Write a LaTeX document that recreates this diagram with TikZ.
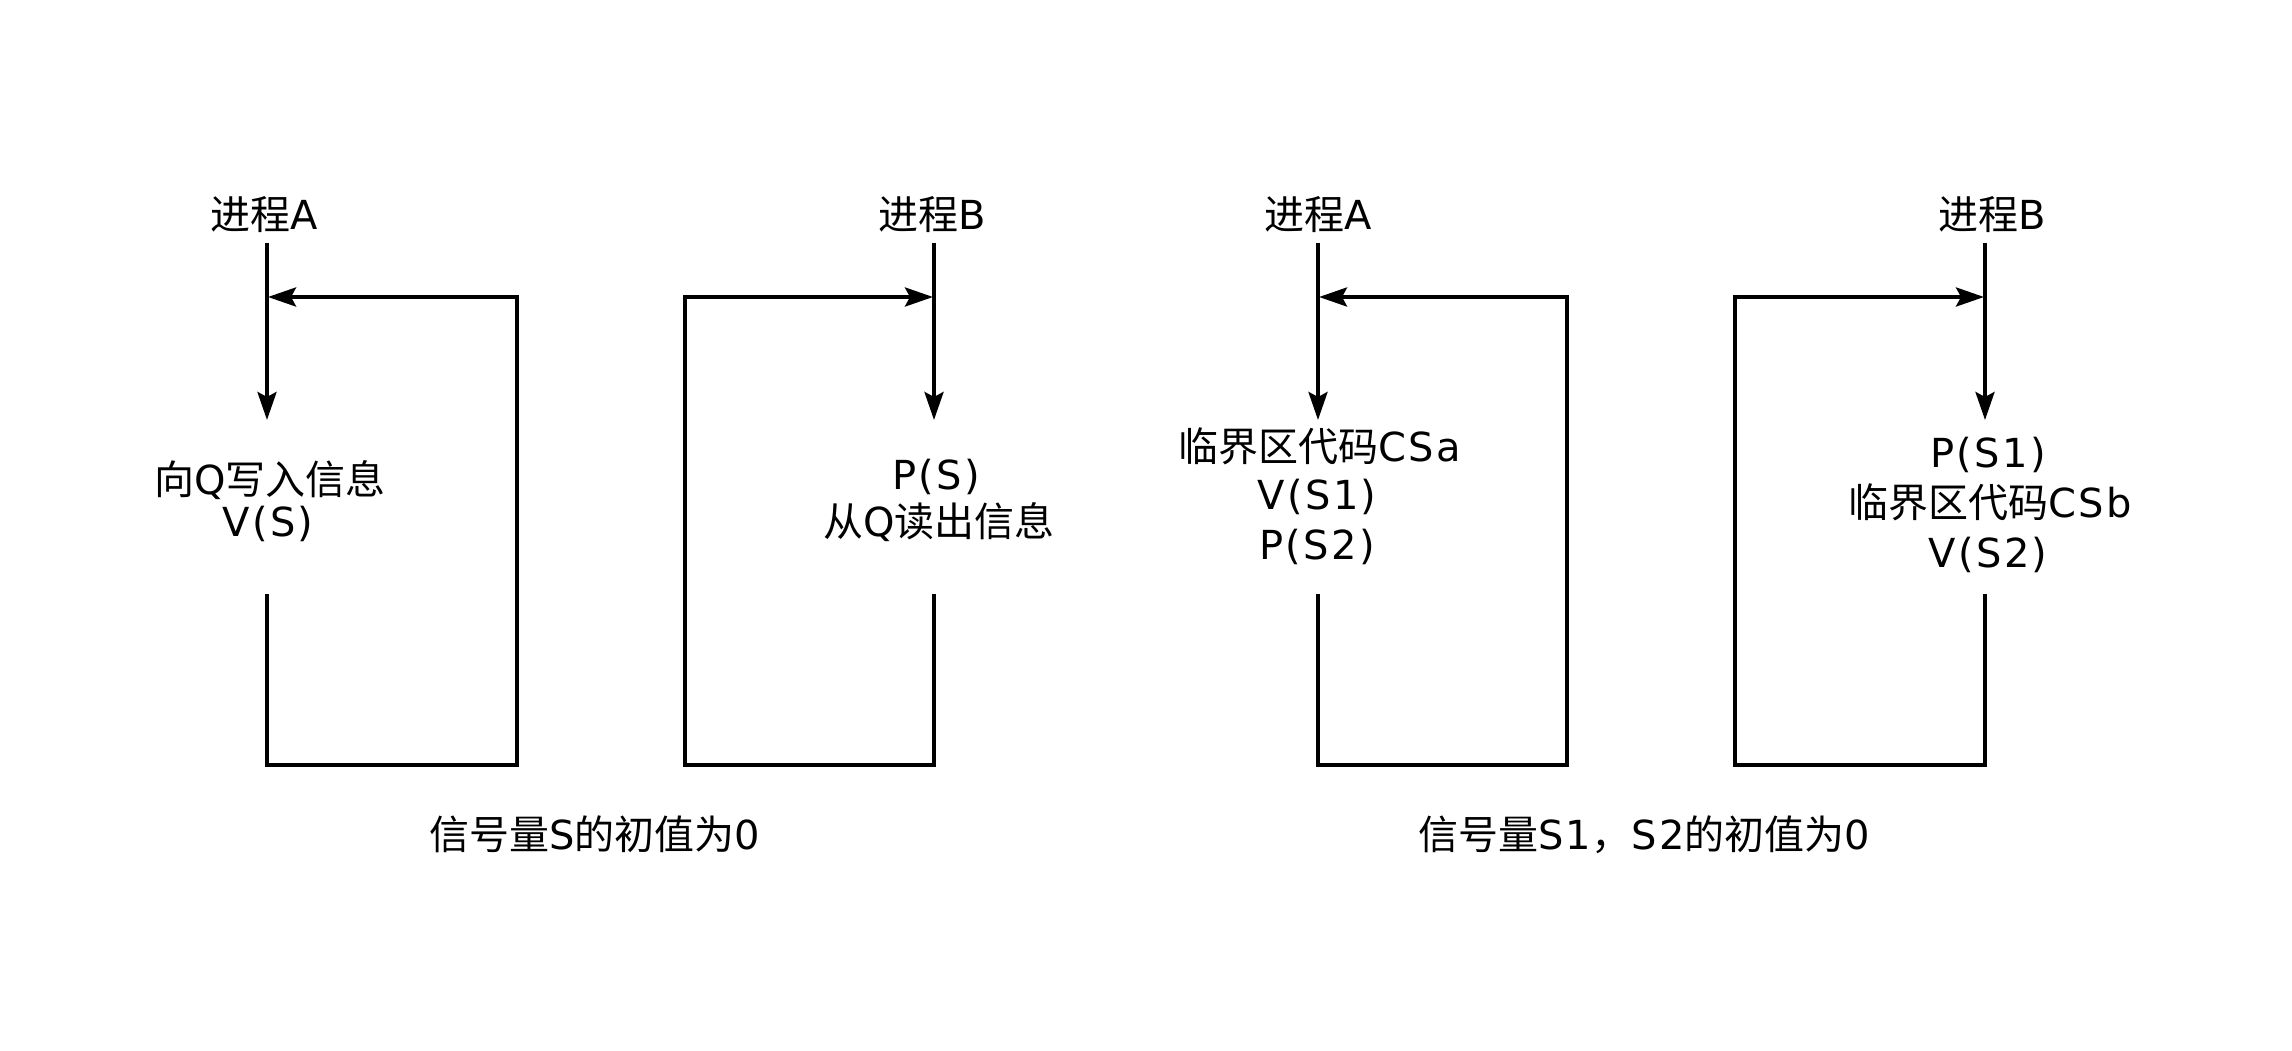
\documentclass[tikz,border=0pt]{standalone}
\usepackage{fontspec}
\setmainfont{DejaVu Sans}[LetterSpace=6]
\newfontfamily\cjkfont{Noto Sans CJK SC}
\newcommand{\zhs}[1]{{\cjkfont #1}}
\usetikzlibrary{arrows.meta}
\tikzset{
  txt/.style={font=\fontsize{40}{48}\selectfont, inner sep=0pt, anchor=base},
  wall/.style={line width=3.8pt, line join=miter, line cap=rect},
  flow/.style={wall, -{Stealth[length=28pt,width=19pt,inset=5pt]}}
}
\begin{document}
\begin{tikzpicture}[x=1pt,y=-1pt]
\useasboundingbox (0,0) rectangle (2292,1051);
\fill[white] (0,0) rectangle (2292,1051);

% ---------- left figure ----------
\node[txt] (lblA1) at (264,229.5) {\zhs{进程}A};
\node[txt] (lblB1) at (932,229.5) {\zhs{进程}B};
\node[txt] (a1t1) at (270,494.5) {\zhs{向}Q\zhs{写入信息}};
\node[txt] (a1t2) at (268,536.5) {V(S)};
\node[txt] (b1t1) at (936,489.5) {P(S)};
\node[txt] (b1t2) at (939,536.5) {\zhs{从}Q\zhs{读出信息}};
\node[txt] (cap1) at (595,849.5) {\zhs{信号量}S\zhs{的初值为}0};

\coordinate (A1top) at (267,245);
\coordinate (A1tip) at (267,420);
\coordinate (A1low) at (267,596);
\coordinate (A1bl) at (267,765);
\coordinate (A1br) at (517,765);
\coordinate (A1tr) at (517,297);
\coordinate (A1in) at (268,297);
\draw[flow] (A1top) -- (A1tip);
\draw[flow] (A1low) -- (A1bl) -- (A1br) -- (A1tr) -- (A1in);

\coordinate (B1top) at (934,245);
\coordinate (B1tip) at (934,420);
\coordinate (B1low) at (934,596);
\coordinate (B1br) at (934,765);
\coordinate (B1bl) at (685,765);
\coordinate (B1tl) at (685,297);
\coordinate (B1in) at (933,297);
\draw[flow] (B1top) -- (B1tip);
\draw[flow] (B1low) -- (B1br) -- (B1bl) -- (B1tl) -- (B1in);

% ---------- right figure ----------
\node[txt] (lblA2) at (1318,229.5) {\zhs{进程}A};
\node[txt] (lblB2) at (1992,229.5) {\zhs{进程}B};
\node[txt] (a2t1) at (1320,461.5) {\zhs{临界区代码}CSa};
\node[txt] (a2t2) at (1317,509.5) {V(S1)};
\node[txt] (a2t3) at (1317,559.5) {P(S2)};
\node[txt] (b2t1) at (1988,467.5) {P(S1)};
\node[txt] (b2t2) at (1990,517.5) {\zhs{临界区代码}CSb};
\node[txt] (b2t3) at (1988,567.5) {V(S2)};
\node[txt] (cap2) at (1644,849.5) {\zhs{信号量}S1\zhs{，}S2\zhs{的初值为}0};

\coordinate (A2top) at (1318,245);
\coordinate (A2tip) at (1318,420);
\coordinate (A2low) at (1318,596);
\coordinate (A2bl) at (1318,765);
\coordinate (A2br) at (1567,765);
\coordinate (A2tr) at (1567,297);
\coordinate (A2in) at (1319,297);
\draw[flow] (A2top) -- (A2tip);
\draw[flow] (A2low) -- (A2bl) -- (A2br) -- (A2tr) -- (A2in);

\coordinate (B2top) at (1985,245);
\coordinate (B2tip) at (1985,420);
\coordinate (B2low) at (1985,596);
\coordinate (B2br) at (1985,765);
\coordinate (B2bl) at (1735,765);
\coordinate (B2tl) at (1735,297);
\coordinate (B2in) at (1984,297);
\draw[flow] (B2top) -- (B2tip);
\draw[flow] (B2low) -- (B2br) -- (B2bl) -- (B2tl) -- (B2in);
\end{tikzpicture}
\end{document}
